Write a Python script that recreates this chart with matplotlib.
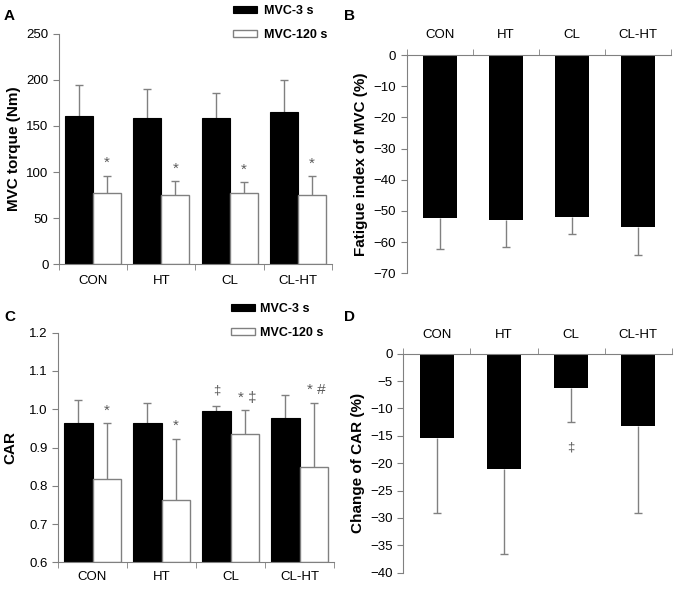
import matplotlib
matplotlib.use("Agg")
import matplotlib.pyplot as plt
import numpy as np

plt.rcParams['font.family'] = ['Liberation Sans', 'DejaVu Sans']

groups = ['CON', 'HT', 'CL', 'CL-HT']

# A: MVC torque (Nm)
mvc_3s = [161, 159, 159, 165]
mvc_3s_sd = [34, 31, 26.5, 35]
mvc_120s = [77, 75, 77, 74.5]
mvc_120s_sd = [19, 15, 12, 21]
marks_a = ['*', '*', '*', '*']

# B: fatigue index of MVC (%)
fatigue = [-52.3, -52.9, -52.1, -55.2]
fatigue_sd = [9.8, 8.5, 5.4, 8.8]

# C: CAR
car_3s = [0.964, 0.964, 0.996, 0.978]
car_3s_sd = [0.061, 0.051, 0.013, 0.059]
car_120s = [0.817, 0.764, 0.934, 0.85]
car_120s_sd = [0.147, 0.159, 0.063, 0.167]
marks_c_3s = ['', '', '\u2021', '']
marks_c_120s = ['*', '*', '* \u2021', '* #']

# D: change of CAR (%)
car_change = [-15.3, -21.1, -6.3, -13.2]
car_change_sd = [13.7, 15.4, 6.2, 15.8]
marks_d = ['', '', '\u2021', '']

grey = '#808080'
mark_col = '#5a5a5a'
x = np.arange(len(groups))


def err(ax, xs, vals, sd, up=True):
    z = np.zeros(len(sd))
    yerr = [z, sd] if up else [sd, z]
    _, caps, _ = ax.errorbar(xs, vals, yerr=yerr, fmt='none', ecolor=grey,
                             elinewidth=1, capsize=3, capthick=1, zorder=1)
    # hide the cap sitting on the bar end
    caps[0 if up else 1].set_visible(False)


def style(ax, top_axis=False):
    ax.spines['right'].set_visible(False)
    if top_axis:
        ax.spines['bottom'].set_visible(False)
        ax.spines['top'].set_color(grey)
    else:
        ax.spines['top'].set_visible(False)
        ax.spines['bottom'].set_color(grey)
    ax.spines['left'].set_color(grey)
    ax.set_xlim(-0.5, 3.5)
    ax.set_xticks(x)
    ax.set_xticklabels(groups)
    ax.set_xticks(np.arange(-0.5, 4, 1), minor=True)
    ax.tick_params(axis='y', direction='out', length=4, color=grey, labelsize=9.5)
    ax.tick_params(axis='x', which='major', length=0, labelsize=9.5)
    ax.tick_params(axis='x', which='minor', length=4, color=grey)
    if top_axis:
        ax.xaxis.set_ticks_position('top')
        ax.xaxis.set_label_position('top')
        ax.tick_params(axis='x', which='major', pad=10)
    else:
        ax.tick_params(axis='x', which='major', pad=8)


def grouped(ax, v1, s1, v2, s2, bottom=0):
    w = 0.41
    b1 = ax.bar(x - 0.205, np.array(v1) - bottom, w, bottom=bottom, color='black',
                edgecolor='black', linewidth=0.8, zorder=2, label='MVC-3 s')
    b2 = ax.bar(x + 0.205, np.array(v2) - bottom, w, bottom=bottom, color='white',
                edgecolor=grey, linewidth=1, zorder=2, label='MVC-120 s')
    err(ax, x - 0.205, v1, s1)
    err(ax, x + 0.205, v2, s2)
    return b1, b2


fig = plt.figure(figsize=(6.77, 5.96), dpi=100)
axA = fig.add_axes([0.0872, 0.557, 0.403, 0.386])
axB = fig.add_axes([0.6007, 0.5414, 0.391, 0.3663])
axC = fig.add_axes([0.0857, 0.0565, 0.4077, 0.3853])
axD = fig.add_axes([0.5957, 0.039, 0.3965, 0.3675])

leg_kw = dict(bbox_transform=fig.transFigure, frameon=False, borderpad=0,
              borderaxespad=0, handlelength=1.9, handleheight=0.55,
              labelspacing=0.95, prop={'weight': 'bold', 'size': 9})

# A
grouped(axA, mvc_3s, mvc_3s_sd, mvc_120s, mvc_120s_sd)
style(axA)
axA.set_ylim(0, 250)
axA.set_yticks(range(0, 251, 50))
axA.set_ylabel('MVC torque (Nm)', fontsize=11, fontweight='bold', labelpad=4)
for i, m in enumerate(marks_a):
    axA.annotate(m, (x[i] + 0.205, mvc_120s[i] + mvc_120s_sd[i]), xytext=(0, 4),
                 textcoords='offset points', ha='center', va='bottom',
                 color=mark_col, fontsize=11)
axA.legend(loc='upper left', bbox_to_anchor=(233 / 677, 1 - 5 / 596),
           handletextpad=0.6, **leg_kw)

# B
axB.bar(x, fatigue, 0.51, color='black', zorder=2)
err(axB, x, fatigue, fatigue_sd, up=False)
style(axB, top_axis=True)
axB.set_ylim(-70, 0)
axB.set_yticks(range(-70, 1, 10))
axB.set_ylabel('Fatigue index of MVC (%)', fontsize=11, fontweight='bold', labelpad=4)

# C
grouped(axC, car_3s, car_3s_sd, car_120s, car_120s_sd, bottom=0.6)
style(axC)
axC.set_ylim(0.6, 1.2)
axC.set_yticks(np.arange(0.6, 1.21, 0.1))
axC.yaxis.set_major_formatter(matplotlib.ticker.FormatStrFormatter('%.1f'))
axC.tick_params(axis='x', which='major', pad=6)
axC.set_ylabel('CAR', fontsize=11, fontweight='bold', labelpad=8)
for i in range(len(groups)):
    if marks_c_3s[i]:
        axC.annotate(marks_c_3s[i], (x[i] - 0.205, car_3s[i] + car_3s_sd[i]),
                     xytext=(0, 7), textcoords='offset points', ha='center',
                     va='bottom', color=mark_col, fontsize=9.5)
    axC.annotate(marks_c_120s[i], (x[i] + 0.205, car_120s[i] + car_120s_sd[i]),
                 xytext=(2 if len(marks_c_120s[i]) > 1 else 0, 4),
                 textcoords='offset points', ha='center', va='bottom',
                 color=mark_col, fontsize=11)
axC.legend(loc='upper left', bbox_to_anchor=(231 / 677, 1 - 303 / 596),
           handletextpad=0.45, **leg_kw)

# D
axD.bar(x, car_change, 0.5, color='black', zorder=2)
err(axD, x, car_change, car_change_sd, up=False)
style(axD, top_axis=True)
axD.set_ylim(-40, 0)
axD.set_yticks(range(-40, 1, 5))
axD.set_ylabel('Change of CAR (%)', fontsize=11, fontweight='bold', labelpad=4)
axD.tick_params(axis='x', which='major', pad=9)
for i, m in enumerate(marks_d):
    if m:
        axD.annotate(m, (x[i], car_change[i] - car_change_sd[i]), xytext=(0, -14),
                     textcoords='offset points', ha='center', va='top',
                     color=mark_col, fontsize=9.5)

for lab, px, py in [('A', 4, 9), ('B', 344, 9), ('C', 4, 310), ('D', 344, 310)]:
    fig.text(px / 677, 1 - py / 596, lab, fontsize=11, fontweight='bold', va='top')

fig.savefig('out.png', dpi=100)
